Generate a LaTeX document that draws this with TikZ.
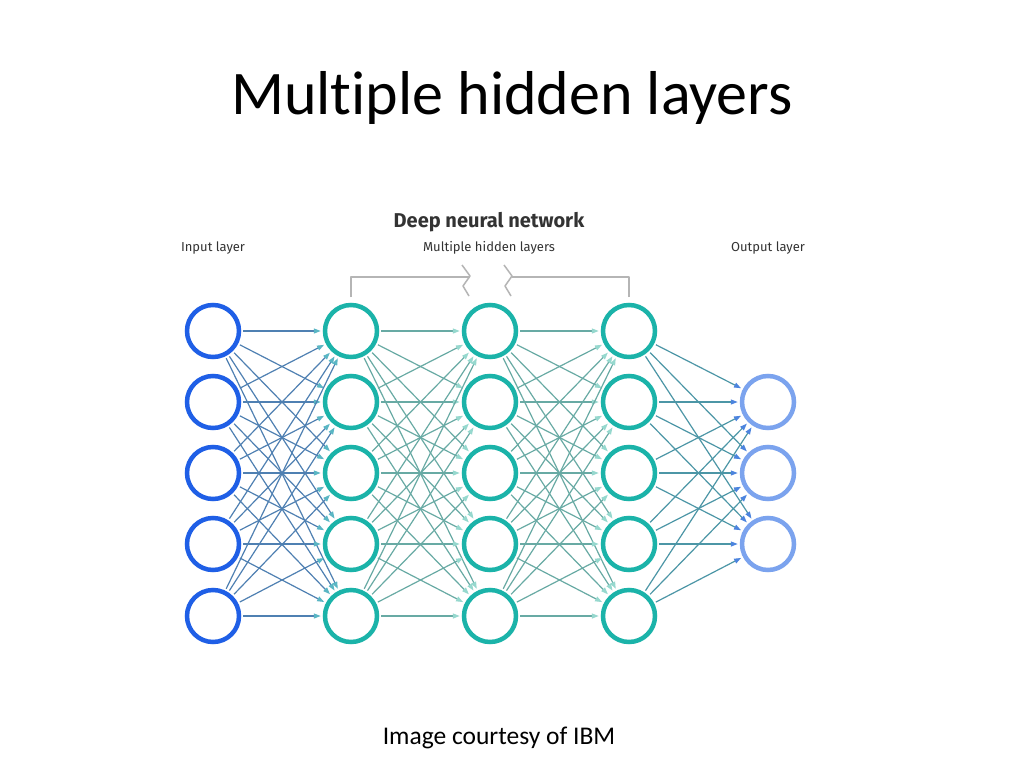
\documentclass[tikz,border=0pt]{standalone}
\usepackage{fontspec}
\setmainfont[Ligatures=CommonOff]{Carlito}
\newfontfamily\plex{Fira Sans}
\usetikzlibrary{arrows.meta}
\definecolor{inblue}{HTML}{1F5FE6}
\definecolor{hteal}{HTML}{1BB3A9}
\definecolor{outblue}{HTML}{7BA3EE}
\definecolor{bracketgray}{HTML}{B5B5B5}
\definecolor{edgeA}{HTML}{4F80B2}
\definecolor{tipA}{HTML}{5AB6C4}
\definecolor{edgeB}{HTML}{68AAA4}
\definecolor{tipB}{HTML}{96D8CE}
\definecolor{edgeC}{HTML}{4C96A6}
\definecolor{tipC}{HTML}{4C84DE}
\definecolor{labelgray}{HTML}{333333}
\tikzset{
  neuron/.style={circle, line width=4.5pt, minimum size=52pt, inner sep=0pt, fill=white},
  inneuron/.style={neuron, draw=inblue},
  hidneuron/.style={neuron, draw=hteal},
  outneuron/.style={neuron, draw=outblue},
  edgebase/.style={line width=1.2pt, shorten >=2pt, shorten <=2pt},
  edgeAst/.style={edgebase, draw=edgeA, -{Triangle[length=7pt,width=5pt,color=tipA,fill=tipA]}},
  edgeBst/.style={edgebase, draw=edgeB, -{Triangle[length=7pt,width=5pt,color=tipB,fill=tipB]}},
  edgeCst/.style={edgebase, draw=edgeC, -{Triangle[length=7pt,width=5pt,color=tipC,fill=tipC]}},
  bracket/.style={draw=bracketgray, line width=1.5pt, line join=round},
  layerlabel/.style={font=\plex\fontsize{13}{15}\selectfont, text=labelgray},
}
\begin{document}
\begin{tikzpicture}[x=1pt,y=-1pt]
\useasboundingbox[fill=white] (0,0) rectangle (1024,768);
% titles
\node (title) at (512,98) {\fontsize{62}{68}\selectfont Multiple hidden layers};
\node (footer) at (499,738) {\fontsize{25.5}{30}\selectfont Image courtesy of IBM};
\node (dnn) at (489,222) {\plex\bfseries\fontsize{20}{22}\selectfont\color{labelgray}Deep neural network};
\node[layerlabel] (lin) at (213,248) {Input layer};
\node[layerlabel] (lhid) at (489,248) {Multiple hidden layers};
\node[layerlabel] (lout) at (768,248) {Output layer};
% bracket
\coordinate (bl) at (351,297);
\coordinate (br) at (629,297);
\draw[bracket] (bl) -- (351,277) -- (470,277);
\draw[bracket] (462,265) -- (470,276) -- (463,286) -- (469,296);
\draw[bracket] (br) -- (629,277) -- (512,277);
\draw[bracket] (504,265) -- (512,276) -- (505,286) -- (511,296);
% neurons
\foreach \j/\y in {1/331,2/402,3/473,4/544,5/616}{
  \node[inneuron] (i\j) at (213,\y) {};
  \node[hidneuron] (a\j) at (351,\y) {};
  \node[hidneuron] (b\j) at (490,\y) {};
  \node[hidneuron] (c\j) at (629,\y) {};
}
\foreach \j/\y in {1/402,2/473,3/544}{
  \node[outneuron] (o\j) at (768,\y) {};
}
% edges
\foreach \s in {1,...,5}{
  \foreach \t in {1,...,5}{
    \draw[edgeAst] (i\s) -- (a\t);
    \draw[edgeBst] (a\s) -- (b\t);
    \draw[edgeBst] (b\s) -- (c\t);
  }
  \foreach \t in {1,2,3}{
    \draw[edgeCst] (c\s) -- (o\t);
  }
}
\end{tikzpicture}
\end{document}
